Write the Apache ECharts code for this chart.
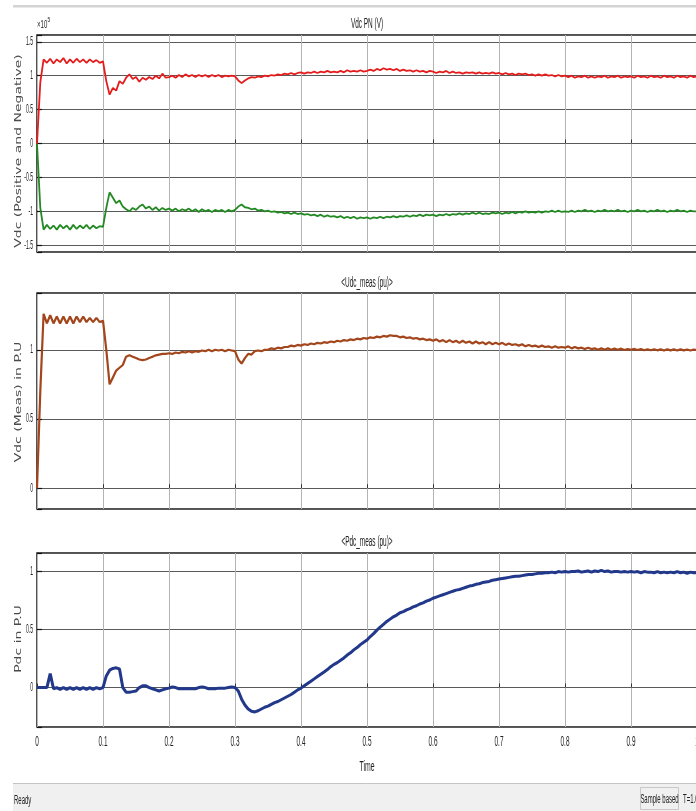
<!DOCTYPE html>
<html>
<head>
<meta charset="utf-8">
<style>
  html, body { margin: 0; padding: 0; background: #fff; overflow: hidden; width: 696px; height: 811px; }
  #main { width: 720px; height: 811px; }
</style>
<script src="https://cdn.jsdelivr.net/npm/echarts@6.0.0/dist/echarts.min.js"></script>
</head>
<body>
<div id="main"></div>
<script>
// sample times (s)
const time = [
  0, 0.005, 0.01, 0.015, 0.02, 0.025, 0.03, 0.035, 0.04, 0.045, 0.05, 0.055, 0.06, 0.065, 0.07, 0.075, 0.08, 0.085, 0.09, 0.095,
  0.1, 0.105, 0.11, 0.115, 0.12, 0.125, 0.13, 0.135, 0.14, 0.145, 0.15, 0.155, 0.16, 0.165, 0.17, 0.175, 0.18, 0.185, 0.19, 0.195,
  0.2, 0.205, 0.21, 0.215, 0.22, 0.225, 0.23, 0.235, 0.24, 0.245, 0.25, 0.255, 0.26, 0.265, 0.27, 0.275, 0.28, 0.285, 0.29, 0.295,
  0.3, 0.305, 0.31, 0.315, 0.32, 0.325, 0.33, 0.335, 0.34, 0.345, 0.35, 0.355, 0.36, 0.365, 0.37, 0.375, 0.38, 0.385, 0.39, 0.395,
  0.4, 0.405, 0.41, 0.415, 0.42, 0.425, 0.43, 0.435, 0.44, 0.445, 0.45, 0.455, 0.46, 0.465, 0.47, 0.475, 0.48, 0.485, 0.49, 0.495,
  0.5, 0.505, 0.51, 0.515, 0.52, 0.525, 0.53, 0.535, 0.54, 0.545, 0.55, 0.555, 0.56, 0.565, 0.57, 0.575, 0.58, 0.585, 0.59, 0.595,
  0.6, 0.605, 0.61, 0.615, 0.62, 0.625, 0.63, 0.635, 0.64, 0.645, 0.65, 0.655, 0.66, 0.665, 0.67, 0.675, 0.68, 0.685, 0.69, 0.695,
  0.7, 0.705, 0.71, 0.715, 0.72, 0.725, 0.73, 0.735, 0.74, 0.745, 0.75, 0.755, 0.76, 0.765, 0.77, 0.775, 0.78, 0.785, 0.79, 0.795,
  0.8, 0.805, 0.81, 0.815, 0.82, 0.825, 0.83, 0.835, 0.84, 0.845, 0.85, 0.855, 0.86, 0.865, 0.87, 0.875, 0.88, 0.885, 0.89, 0.895,
  0.9, 0.905, 0.91, 0.915, 0.92, 0.925, 0.93, 0.935, 0.94, 0.945, 0.95, 0.955, 0.96, 0.965, 0.97, 0.975, 0.98, 0.985, 0.99, 0.995,
  1
];

// Vdc positive (x10^5 V)
const vdcPos = [
  0, 0.9, 1.24, 1.19, 1.25, 1.18, 1.24, 1.2, 1.26, 1.18, 1.24, 1.19, 1.25, 1.2, 1.24, 1.19, 1.24, 1.2, 1.23, 1.19,
  1.21, 0.92, 0.72, 0.82, 0.78, 0.92, 0.88, 0.97, 1.02, 0.95, 0.98, 0.91, 0.97, 0.94, 0.98, 0.95, 1.0, 0.96, 1.03, 0.97,
  0.98, 1.0, 0.97, 1.01, 0.98, 1.02, 0.99, 1.01, 0.98, 1.01, 0.99, 1.01, 0.98, 1.01, 0.99, 1.01, 0.98, 1.0, 0.99, 1.0,
  0.99, 0.93, 0.89, 0.93, 0.96, 0.98, 0.97, 0.99, 0.98, 1.0, 0.99, 1.01, 1.0, 1.02, 1.01, 1.03, 1.02, 1.04, 1.02, 1.04,
  1.05, 1.03, 1.05, 1.04, 1.06, 1.04, 1.06, 1.05, 1.07, 1.05, 1.06, 1.05, 1.07, 1.05, 1.08, 1.06, 1.07, 1.06, 1.08, 1.06,
  1.07, 1.09, 1.07, 1.1, 1.08, 1.11, 1.09, 1.1, 1.08, 1.1, 1.07, 1.09, 1.07, 1.08, 1.06, 1.08, 1.06, 1.07, 1.05, 1.07,
  1.06, 1.04, 1.06, 1.05, 1.07, 1.04, 1.06, 1.04, 1.05, 1.03, 1.05, 1.04, 1.05, 1.03, 1.05, 1.03, 1.04, 1.03, 1.05, 1.03,
  1.04, 1.02, 1.04, 1.02, 1.03, 1.01, 1.03, 1.02, 1.03, 1.01, 1.02, 1.0, 1.02, 1.0, 1.02, 1.0, 1.01, 0.99, 1.01, 0.99,
  1.0, 0.98, 1.0, 0.97, 0.99, 0.98, 1.0, 0.97, 0.99, 0.97, 0.99, 0.98, 1.0, 0.97, 0.99, 0.98, 1.0, 0.97, 0.99, 0.98,
  0.99, 0.97, 1.0, 0.98, 0.99, 0.97, 1.0, 0.98, 0.99, 0.97, 1.0, 0.98, 0.99, 0.97, 1.0, 0.98, 0.99, 0.97, 1.0, 0.98,
  0.99
];

// Vdc negative (x10^5 V)
const vdcNeg = [
  0, -0.95, -1.27, -1.2, -1.26, -1.21, -1.27, -1.2, -1.25, -1.21, -1.27, -1.2, -1.26, -1.21, -1.25, -1.2, -1.26, -1.21, -1.25, -1.22,
  -1.23, -0.95, -0.72, -0.8, -0.88, -0.84, -0.93, -0.97, -1.0, -0.95, -0.98, -0.93, -0.9, -0.96, -0.93, -0.98, -0.94, -0.99, -0.95, -0.98,
  -0.96, -0.99, -0.96, -1.0, -0.97, -0.99, -0.96, -1.0, -0.97, -1.01, -0.97, -1.0, -0.98, -1.01, -0.98, -1.0, -0.98, -1.01, -0.98, -1.0,
  -0.98, -0.93, -0.9, -0.94, -0.95, -0.97, -0.96, -0.99, -0.98, -1.0, -0.99, -1.01, -1.0, -1.02, -1.01, -1.03, -1.02, -1.04, -1.02, -1.04,
  -1.03, -1.05, -1.04, -1.06, -1.05, -1.07, -1.05, -1.08, -1.06, -1.08, -1.07, -1.09, -1.07, -1.1, -1.08, -1.1, -1.08, -1.11, -1.09, -1.1,
  -1.09, -1.11, -1.09, -1.1, -1.08, -1.1, -1.08, -1.09, -1.07, -1.09, -1.07, -1.08, -1.06, -1.08, -1.06, -1.07, -1.05, -1.07, -1.05, -1.06,
  -1.05, -1.07, -1.05, -1.06, -1.04, -1.06, -1.04, -1.05, -1.03, -1.05, -1.03, -1.04, -1.02, -1.04, -1.02, -1.04, -1.03, -1.04, -1.02, -1.03,
  -1.02, -1.04, -1.02, -1.03, -1.01, -1.03, -1.01, -1.02, -1.0, -1.02, -1.01, -1.02, -1.0, -1.02, -1.0, -1.01, -0.99, -1.01, -0.99, -1.01,
  -1.0, -1.01, -0.99, -1.01, -0.99, -1.0, -0.98, -1.0, -0.99, -1.01, -0.99, -1.0, -0.98, -1.0, -0.99, -1.0, -0.98, -1.0, -0.99, -1.01,
  -0.99, -1.0, -0.98, -1.0, -0.99, -1.01, -0.99, -1.0, -0.98, -1.0, -0.99, -1.01, -0.99, -1.0, -0.98, -1.0, -0.99, -1.01, -0.99, -1.0,
  -1.0
];

// Udc_meas (pu)
const udcMeas = [
  0, 0.7, 1.26, 1.19, 1.25, 1.19, 1.24, 1.19, 1.24, 1.19, 1.24, 1.19, 1.24, 1.2, 1.24, 1.2, 1.23, 1.2, 1.23, 1.2,
  1.21, 1.0, 0.75, 0.8, 0.85, 0.87, 0.89, 0.95, 0.96, 0.95, 0.94, 0.93, 0.925, 0.93, 0.94, 0.95, 0.96, 0.965, 0.97, 0.97,
  0.975, 0.97, 0.98, 0.975, 0.985, 0.98, 0.99, 0.98, 0.99, 0.985, 0.995, 0.99, 1.0, 0.99, 1.0, 0.995, 1.0, 0.99, 1.0, 0.995,
  0.99, 0.93, 0.9, 0.94, 0.97, 0.965, 0.99, 0.995, 0.99, 1.0, 1.0, 1.01, 1.005, 1.015, 1.01, 1.02, 1.02, 1.03, 1.025, 1.035,
  1.03, 1.04, 1.035, 1.045, 1.04, 1.05, 1.045, 1.055, 1.05, 1.06, 1.055, 1.065, 1.06, 1.07, 1.065, 1.075, 1.07, 1.08, 1.075, 1.085,
  1.08, 1.09, 1.085, 1.095, 1.09, 1.1, 1.095, 1.105, 1.1, 1.1, 1.09, 1.095, 1.085, 1.09, 1.08, 1.085, 1.075, 1.08, 1.07, 1.075,
  1.065, 1.075, 1.06, 1.07, 1.055, 1.07, 1.055, 1.065, 1.05, 1.065, 1.05, 1.06, 1.045, 1.06, 1.045, 1.055, 1.04, 1.055, 1.04, 1.05,
  1.04, 1.05, 1.035, 1.045, 1.035, 1.04, 1.03, 1.04, 1.025, 1.035, 1.025, 1.03, 1.02, 1.03, 1.02, 1.025, 1.015, 1.025, 1.015, 1.02,
  1.015, 1.025, 1.01, 1.02, 1.01, 1.015, 1.005, 1.015, 1.005, 1.01, 1.0, 1.01, 1.0, 1.01, 1.0, 1.008, 1.0, 1.008, 0.998, 1.005,
  1.0, 1.006, 0.998, 1.005, 0.997, 1.004, 0.996, 1.004, 0.996, 1.003, 0.995, 1.003, 0.996, 1.003, 0.995, 1.003, 0.996, 1.002, 0.995, 1.002,
  0.998
];

// Pdc_meas (pu)
const pdcMeas = [
  0, 0, 0, 0, 0.12, -0.01, 0, -0.015, 0, -0.015, 0, -0.015, 0, -0.015, 0, -0.015, 0, -0.015, 0, -0.01,
  0, 0.1, 0.15, 0.165, 0.17, 0.16, 0.0, -0.04, -0.04, -0.035, -0.03, 0.0, 0.015, 0.015, 0.0, -0.01, -0.02, -0.03, -0.02, -0.01,
  -0.005, 0.005, 0.0, -0.01, -0.01, -0.01, -0.01, -0.01, -0.01, 0.0, 0.005, 0.0, -0.01, -0.01, -0.01, -0.005, -0.005, -0.005, 0.0, 0.005,
  0.0, -0.03, -0.1, -0.15, -0.185, -0.205, -0.21, -0.2, -0.185, -0.17, -0.16, -0.145, -0.13, -0.12, -0.105, -0.09, -0.075, -0.06, -0.04, -0.02,
  -0.005, 0.015, 0.035, 0.055, 0.075, 0.095, 0.115, 0.135, 0.155, 0.18, 0.2, 0.215, 0.235, 0.255, 0.28, 0.3, 0.325, 0.345, 0.37, 0.39,
  0.41, 0.44, 0.465, 0.495, 0.52, 0.545, 0.57, 0.59, 0.61, 0.625, 0.645, 0.655, 0.67, 0.68, 0.695, 0.705, 0.72, 0.73, 0.745, 0.755,
  0.77, 0.78, 0.79, 0.8, 0.81, 0.82, 0.83, 0.84, 0.845, 0.855, 0.865, 0.875, 0.88, 0.89, 0.895, 0.905, 0.91, 0.915, 0.925, 0.93,
  0.935, 0.94, 0.945, 0.95, 0.955, 0.96, 0.96, 0.965, 0.97, 0.975, 0.975, 0.98, 0.985, 0.985, 0.99, 0.99, 0.995, 0.99, 1.0, 0.995,
  1.0, 0.995, 1.0, 1.0, 1.005, 0.995, 1.0, 1.005, 0.995, 1.005, 1.0, 1.01, 1.0, 1.005, 0.995, 1.0, 1.0, 0.995, 1.0, 0.995,
  1.0, 0.995, 1.0, 0.99, 1.0, 0.995, 0.995, 0.99, 1.0, 0.99, 0.995, 0.99, 0.995, 0.99, 1.0, 0.99, 0.995, 0.985, 0.995, 0.99,
  0.99
];

// tick labels
const xTicks = [0, 0.1, 0.2, 0.3, 0.4, 0.5, 0.6, 0.7, 0.8, 0.9, 1];
const vdcTicks = [-1.5, -1, -0.5, 0, 0.5, 1, 1.5];
const udcTicks = [0, 0.5, 1];
const pdcTicks = [0, 0.5, 1];

// the screenshot is squeezed sideways, so text is drawn narrow
const sans = '"Liberation Sans", Arial, sans-serif';
const squeeze = 0.46;

function pairs(vals) {
  return time.map((t, i) => [t, vals[i]]);
}

const chart = echarts.init(document.getElementById('main'), null, { renderer: 'canvas' });

const grids = [
  { left: 37, top: 35, width: 660, height: 217 },
  { left: 37, top: 293, width: 660, height: 216 },
  { left: 37, top: 553, width: 660, height: 174 },
].map(g => Object.assign(g, {
  show: true, borderColor: '#1a1a1a', borderWidth: 1.5, backgroundColor: '#fff',
  containLabel: false, outerBoundsMode: 'none',
}));

function makeX(idx) {
  return {
    type: 'value', gridIndex: idx, min: 0, max: 1, interval: 0.1,
    axisLine: { show: false },
    axisTick: { show: true, inside: true, length: 4, lineStyle: { color: '#333' } },
    axisLabel: { show: false },
    splitLine: { show: true, lineStyle: { color: '#b4b4b4', width: 1 } },
  };
}

function makeY(idx, min, max, split) {
  return {
    type: 'value', gridIndex: idx, min, max, splitNumber: split,
    axisLine: { show: false },
    axisTick: { show: true, inside: true, length: 5, lineStyle: { color: '#111', width: 1.2 } },
    axisLabel: { show: false },
    splitLine: { show: true, lineStyle: { color: '#5a5a5a', width: 1 } },
  };
}

function line(name, vals, idx, color, width) {
  return {
    name, type: 'line', xAxisIndex: idx, yAxisIndex: idx,
    data: pairs(vals), showSymbol: false, symbol: 'none',
    lineStyle: { color, width }, clip: true, animation: false,
  };
}

chart.setOption({
  backgroundColor: '#fff',
  animation: false,
  grid: grids,
  xAxis: [makeX(0), makeX(1), makeX(2)],
  yAxis: [
    makeY(0, -1.6, 1.6, 6),
    makeY(1, -0.15, 1.41, 3),
    makeY(2, -0.34, 1.16, 3),
  ],
  series: [
    line('Vdc N', vdcNeg, 0, '#238a23', 1.8),
    line('Vdc P', vdcPos, 0, '#e51c1c', 1.8),
    line('Udc_meas', udcMeas, 1, '#a3461b', 2.2),
    line('Pdc_meas', pdcMeas, 2, '#22388a', 3),
  ],
});

function narrowText(text, x, y, size, align, opts) {
  return Object.assign({
    type: 'text', x, y, scaleX: squeeze, silent: true,
    style: { text, font: size + 'px ' + sans, fill: '#222', align: align || 'left', verticalAlign: 'middle' },
  }, opts || {});
}

function yName(text, y) {
  return {
    type: 'text', x: 19, y, rotation: Math.PI / 2, scaleY: 0.62, silent: true,
    style: { text, font: '14px "DejaVu Sans", Verdana, sans-serif', fill: '#4a4a4a', align: 'center', verticalAlign: 'middle' },
  };
}

const graphics = [
  { type: 'rect', shape: { x: 13, y: 5, width: 720, height: 2.5 }, style: { fill: '#d4d4d4' }, silent: true },
  narrowText('Vdc PN (V)', 367, 24, 14, 'center'),
  narrowText('<Udc_meas (pu)>', 367, 283, 14, 'center'),
  narrowText('<Pdc_meas (pu)>', 367, 542, 14, 'center'),
  narrowText('×10', 37, 25, 11, 'left', { scaleX: 0.55 }),
  narrowText('5', 47.5, 20, 8, 'left', { scaleX: 0.6 }),
  narrowText('Time', 367, 767, 15, 'center'),
  yName('Vdc (Positive and Negative)', 151),
  yName('Vdc (Meas) in P.U', 402),
  yName('Pdc in P.U', 639),
  { type: 'rect', shape: { x: 13, y: 783, width: 720, height: 28 }, style: { fill: '#f0f0f0' }, silent: true },
  { type: 'line', shape: { x1: 13, y1: 783.5, x2: 720, y2: 783.5 }, style: { stroke: '#c4c4c4', lineWidth: 1 }, silent: true },
  narrowText('Ready', 14, 800, 13, 'left'),
  { type: 'rect', shape: { x: 640.5, y: 787.5, width: 38, height: 22 }, style: { fill: 'none', stroke: '#c8c8c8', lineWidth: 1 }, silent: true },
  narrowText('Sample based', 659.5, 799, 13, 'center'),
  narrowText('T=1.000', 683, 799, 13, 'left'),
];

// tick labels placed through the axes' own scales
[[0, vdcTicks], [1, udcTicks], [2, pdcTicks]].forEach(([g, ticks]) => {
  ticks.forEach(v => {
    const p = chart.convertToPixel({ gridIndex: g }, [0, v]);
    graphics.push(narrowText(String(v), 33, p[1], 12, 'right', { scaleX: 0.42 }));
  });
});
xTicks.forEach(t => {
  const p = chart.convertToPixel({ gridIndex: 2 }, [t, -0.34]);
  graphics.push(narrowText(String(t), p[0], p[1] + 15, 14, 'center'));
});

chart.setOption({ graphic: graphics });
</script>
</body>
</html>
